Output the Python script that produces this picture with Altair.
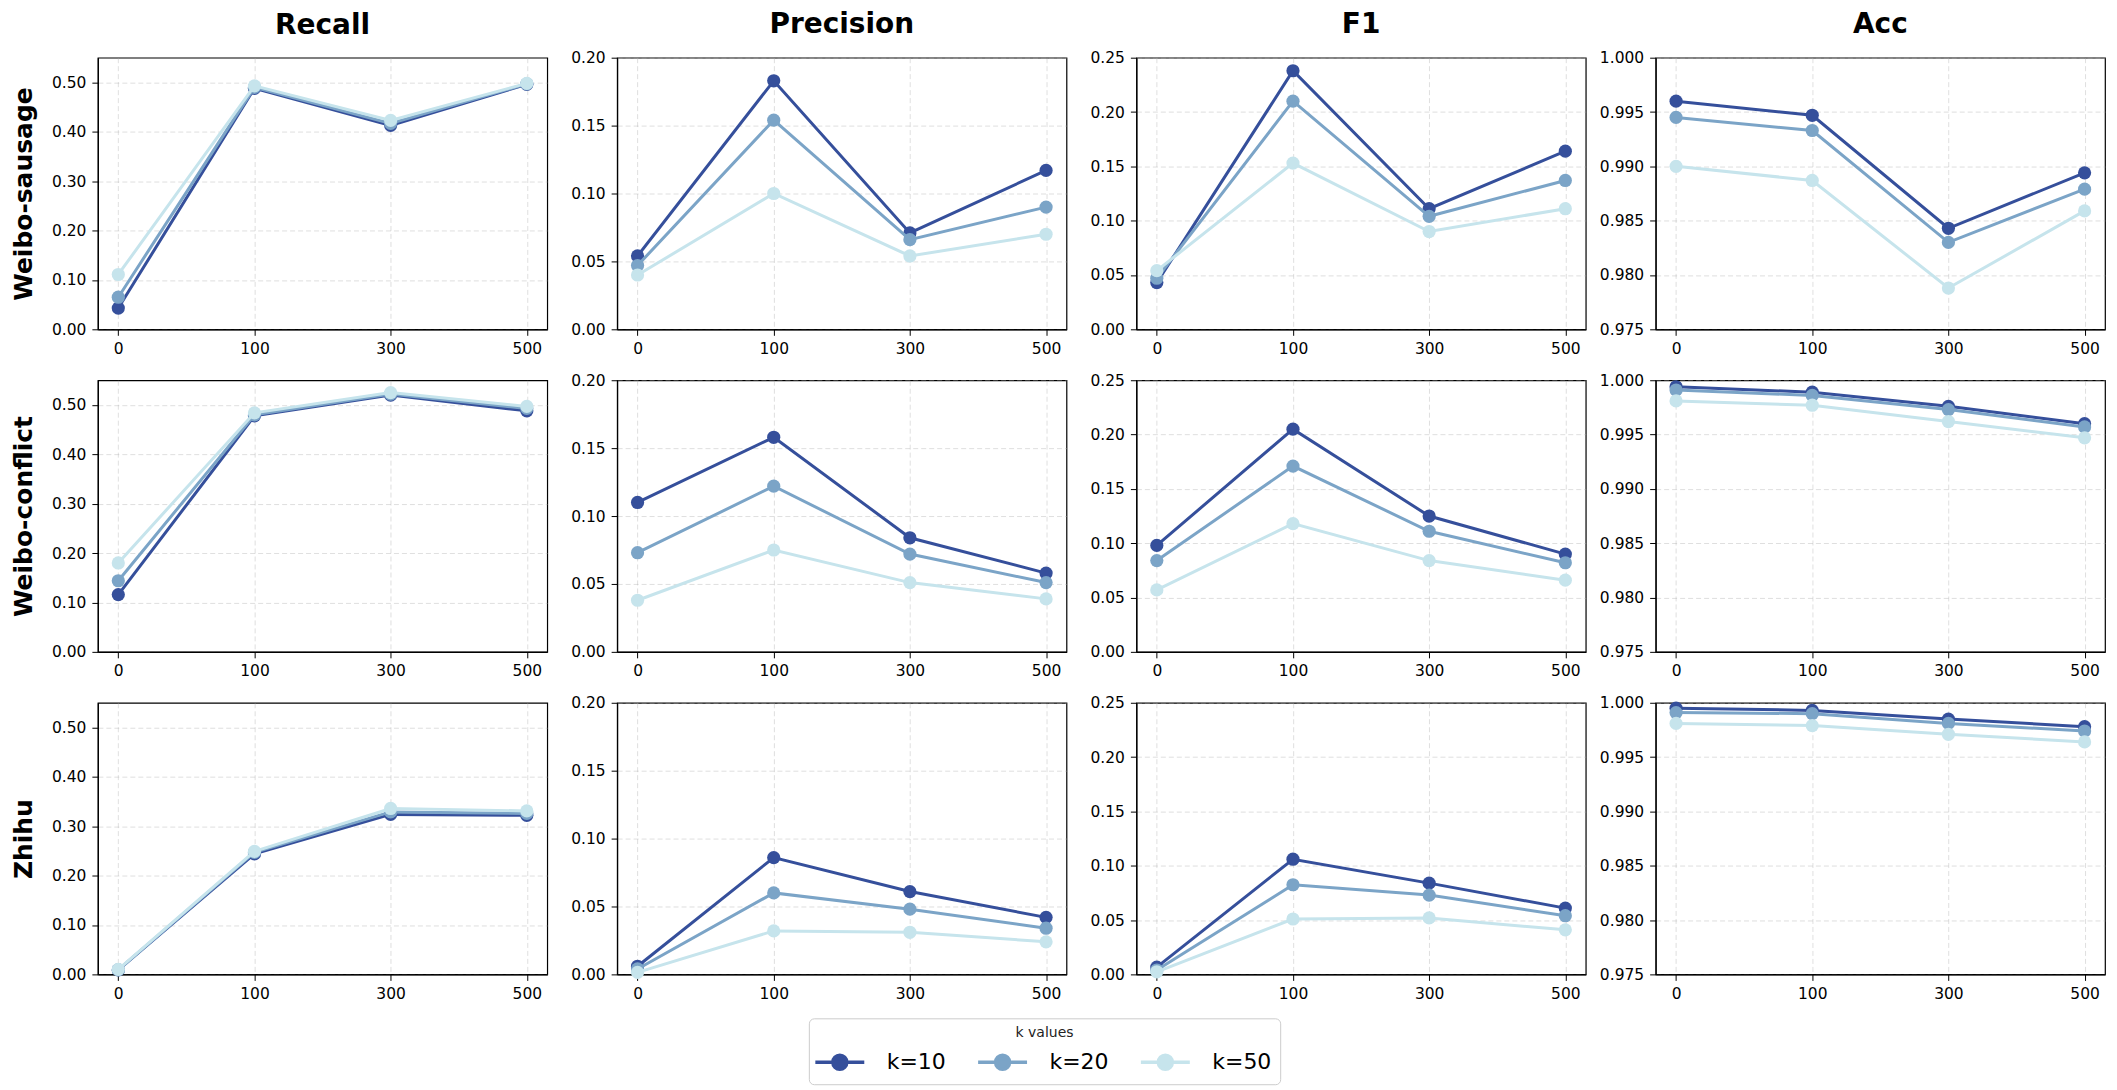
import altair as alt
import pandas as pd

# ---------------- data ----------------
x_labels = ["0", "100", "300", "500"]
k_labels = ["k=10", "k=20", "k=50"]
k_colors = ["#354f9b", "#7ba4c7", "#c6e4ec"]
datasets = ["Weibo-sausage", "Weibo-conflict", "Zhihu"]
metrics = ["Recall", "Precision", "F1", "Acc"]

# each list: [k=10 series, k=20 series, k=50 series] over x_labels
sausage_recall = [[0.043, 0.488, 0.413, 0.496], [0.065, 0.490, 0.417, 0.497], [0.111, 0.493, 0.423, 0.498]]
sausage_precision = [[0.054, 0.183, 0.071, 0.117], [0.047, 0.154, 0.066, 0.090], [0.040, 0.100, 0.054, 0.070]]
sausage_f1 = [[0.043, 0.238, 0.111, 0.164], [0.047, 0.210, 0.104, 0.137], [0.054, 0.153, 0.090, 0.111]]
sausage_acc = [[0.9960, 0.9947, 0.9843, 0.9894], [0.9945, 0.9933, 0.9830, 0.9879], [0.9900, 0.9887, 0.9788, 0.9859]]

conflict_recall = [[0.116, 0.478, 0.520, 0.488], [0.144, 0.480, 0.522, 0.493], [0.180, 0.484, 0.525, 0.497]]
conflict_precision = [[0.110, 0.158, 0.084, 0.058], [0.073, 0.122, 0.072, 0.051], [0.038, 0.075, 0.051, 0.039]]
conflict_f1 = [[0.098, 0.205, 0.125, 0.090], [0.084, 0.171, 0.111, 0.082], [0.057, 0.118, 0.084, 0.066]]
conflict_acc = [[0.9994, 0.9989, 0.9976, 0.9960], [0.9991, 0.9986, 0.9973, 0.9957], [0.9981, 0.9977, 0.9962, 0.9947]]

zhihu_recall = [[0.009, 0.244, 0.324, 0.322], [0.009, 0.247, 0.329, 0.326], [0.010, 0.249, 0.336, 0.331]]
zhihu_precision = [[0.006, 0.086, 0.061, 0.042], [0.004, 0.060, 0.048, 0.034], [0.0015, 0.032, 0.031, 0.024]]
zhihu_f1 = [[0.0067, 0.106, 0.084, 0.061], [0.004, 0.0825, 0.073, 0.054], [0.0024, 0.051, 0.052, 0.041]]
zhihu_acc = [[0.9995, 0.9993, 0.9985, 0.9978], [0.9991, 0.9990, 0.9981, 0.9974], [0.9981, 0.9979, 0.9971, 0.9964]]

values = {
    ("Weibo-sausage", "Recall"): sausage_recall,
    ("Weibo-sausage", "Precision"): sausage_precision,
    ("Weibo-sausage", "F1"): sausage_f1,
    ("Weibo-sausage", "Acc"): sausage_acc,
    ("Weibo-conflict", "Recall"): conflict_recall,
    ("Weibo-conflict", "Precision"): conflict_precision,
    ("Weibo-conflict", "F1"): conflict_f1,
    ("Weibo-conflict", "Acc"): conflict_acc,
    ("Zhihu", "Recall"): zhihu_recall,
    ("Zhihu", "Precision"): zhihu_precision,
    ("Zhihu", "F1"): zhihu_f1,
    ("Zhihu", "Acc"): zhihu_acc,
}

y_domains = {"Recall": [0, 0.55], "Precision": [0, 0.20], "F1": [0, 0.25], "Acc": [0.975, 1.0]}
y_ticks = {
    "Recall": [0.0, 0.1, 0.2, 0.3, 0.4, 0.5],
    "Precision": [0.0, 0.05, 0.10, 0.15, 0.20],
    "F1": [0.0, 0.05, 0.10, 0.15, 0.20, 0.25],
    "Acc": [0.975, 0.980, 0.985, 0.990, 0.995, 1.000],
}
y_formats = {"Recall": ".2f", "Precision": ".2f", "F1": ".2f", "Acc": ".3f"}
# Recall's top tick sits below the frame, so its title needs a larger offset
title_offsets = {"Recall": 18, "Precision": 12, "F1": 12, "Acc": 12}

FONT = "DejaVu Sans"
# legend glyph: a line with a dot in the middle (unit size = sqrt(symbolSize)/2)
SYMBOL = "M-1.75,0L1.75,0M-0.5,0A0.5,0.5,0,1,0,0.5,0A0.5,0.5,0,1,0,-0.5,0Z"

legend = alt.Legend(
    orient="none", legendX=712, legendY=962, direction="horizontal",
    title="k values", titleFontSize=14, titleFontWeight="normal", titleFont=FONT,
    titleColor="#222222", titleAnchor="middle", titlePadding=6,
    labelFontSize=22, labelFont=FONT, labelColor="black", labelOffset=31,
    symbolType=SYMBOL, symbolSize=784, symbolStrokeWidth=3.5, symbolOpacity=1,
    symbolOffset=7,
    strokeColor="#cccccc", fillColor="white", padding=8, cornerRadius=5,
    columnPadding=24,
)

color_scale = alt.Scale(domain=k_labels, range=k_colors)


def panel(ds, metric, r, c):
    y_axis_kwargs = dict(values=y_ticks[metric], format=y_formats[metric])
    if c == 0:
        y_axis_kwargs.update(title=ds, titleFontSize=25, titleFontWeight="bold",
                             titleFont=FONT, titleColor="black", titlePadding=15)
    else:
        y_axis_kwargs.update(title=None)
    layers = []
    for k, series in zip(k_labels, values[(ds, metric)]):
        df = pd.DataFrame({"x": x_labels, "k": k, "value": series})
        enc = dict(
            x=alt.X("x:N", sort=x_labels, scale=alt.Scale(type="point", padding=0.15),
                    axis=alt.Axis(title=None, labelAngle=0)),
            y=alt.Y("value:Q", scale=alt.Scale(domain=y_domains[metric], nice=False, zero=False),
                    axis=alt.Axis(**y_axis_kwargs)),
            color=alt.Color("k:N", scale=color_scale, legend=legend),
        )
        base = alt.Chart(df)
        layers.append(base.mark_line(strokeWidth=3).encode(**enc))
        layers.append(base.mark_point(filled=True, size=175, opacity=1).encode(**enc))
    ch = alt.layer(*layers).properties(width=450, height=272)
    if r == 0:
        ch = ch.properties(title=alt.TitleParams(metric, fontSize=28, fontWeight="bold",
                                                 font=FONT, color="black",
                                                 offset=title_offsets[metric]))
    return ch


charts = []
for r, ds in enumerate(datasets):
    for c, m in enumerate(metrics):
        charts.append(panel(ds, m, r, c))

chart = (
    alt.concat(*charts, columns=4, spacing={"row": 51, "column": 70}, bounds="flush")
    .resolve_scale(y="independent", x="independent", color="shared")
    .resolve_axis(y="independent", x="independent")
    .properties(padding={"left": 2, "top": 1, "right": 3, "bottom": 0})
    .configure_view(stroke="black", strokeWidth=1.2)
    .configure_axis(
        domainColor="black", domainWidth=1.2, tickColor="black", tickSize=6, tickWidth=1,
        labelFont=FONT, labelFontSize=15.5, labelColor="black", labelPadding=6,
        grid=True, gridColor="#b0b0b0", gridDash=[5, 3], gridOpacity=0.45, gridWidth=0.9,
    )
    .configure_title(anchor="middle")
)

chart.save("out.html", embed_options={"renderer": "svg", "actions": False})
